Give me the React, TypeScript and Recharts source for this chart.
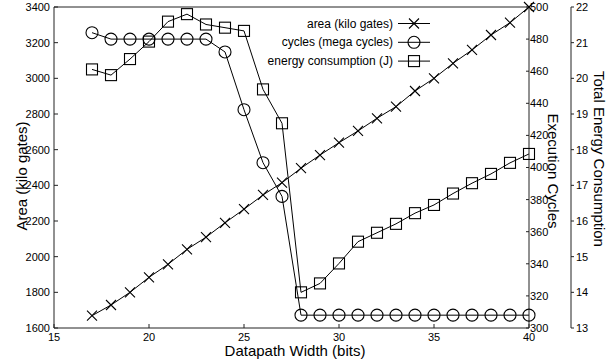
import {ComposedChart, Line, XAxis, YAxis, Legend} from 'recharts';

const FONT = '"Liberation Sans", Arial, Helvetica, sans-serif';

// datapath width (bits)
const widths = [
  17, 18, 19, 20, 21, 22, 23, 24, 25, 26, 27, 28, 29, 30, 31, 32, 33, 34, 35,
  36, 37, 38, 39, 40,
];
// area (kilo gates), left axis
const areaKiloGates = [
  1669, 1729, 1800, 1884, 1957, 2041, 2109, 2190, 2266, 2346, 2415, 2496, 2570,
  2639, 2705, 2776, 2841, 2929, 3000, 3084, 3159, 3243, 3312, 3400,
];
// cycles (mega cycles), first right axis
const megaCycles = [
  484, 480, 480, 480, 480, 480, 480, 472, 436, 403, 382, 308, 308, 308, 308,
  308, 308, 308, 308, 308, 308, 308, 308, 308,
];
// energy consumption (J), outer right axis
const energyJ = [
  20.25, 20.09, 20.54, 21.03, 21.59, 21.8, 21.51, 21.42, 21.33, 19.69, 18.74,
  14.0, 14.25, 14.81, 15.42, 15.67, 15.92, 16.22, 16.45, 16.77, 17.06, 17.32,
  17.63, 17.88,
];

const xTicks = [15, 20, 25, 30, 35, 40];
const areaTicks = [1600, 1800, 2000, 2200, 2400, 2600, 2800, 3000, 3200, 3400];
const cycleTicks = [300, 320, 340, 360, 380, 400, 420, 440, 460, 480, 500];
const energyTicks = [13, 14, 15, 16, 17, 18, 19, 20, 21, 22];

const data = widths.map((w, i) => ({
  w,
  area: areaKiloGates[i],
  cycles: megaCycles[i],
  energy: energyJ[i],
}));

const INK = '#000';
const AXIS = '#222';

const Cross = ({cx, cy}: {cx: number; cy: number}) => (
  <path
    d={`M${cx - 5},${cy - 5}L${cx + 5},${cy + 5}M${cx - 5},${cy + 5}L${cx + 5},${cy - 5}`}
    stroke={INK}
    strokeWidth={1.1}
    fill="none"
  />
);
const Ring = ({cx, cy}: {cx: number; cy: number}) => (
  <circle cx={cx} cy={cy} r={6} stroke={INK} strokeWidth={1.1} fill="none" />
);
const Box = ({cx, cy}: {cx: number; cy: number}) => (
  <rect
    x={cx - 5.5}
    y={cy - 5.5}
    width={11}
    height={11}
    stroke={INK}
    strokeWidth={1.1}
    fill="none"
  />
);

const markers: {[k: string]: any} = {area: Cross, cycles: Ring, energy: Box};

const LegendBox = ({payload}: any) => (
  <svg width={190} height={62} style={{display: 'block'}}>
    {(payload || []).map((p: any, i: number) => {
      const y = 11.5 + i * 18.8;
      const M = markers[p.dataKey as string];
      return (
        <g key={p.value}>
          <text
            x={143}
            y={y}
            textAnchor="end"
            dominantBaseline="central"
            fontSize={12}
            fontFamily={FONT}
            fill={INK}>
            {p.value}
          </text>
          <line x1={148} x2={180} y1={y} y2={y} stroke={INK} strokeWidth={1} />
          <M cx={164} cy={y} />
        </g>
      );
    })}
  </svg>
);

const tickStyle = {fontSize: 11, fill: INK, fontFamily: FONT};

const title = (text: string, x: number, y: number, angle: number) => () => (
  <text
    x={x}
    y={y}
    transform={`rotate(${angle} ${x} ${y})`}
    textAnchor="middle"
    fontSize={15}
    fontFamily={FONT}
    fill={INK}>
    {text}
  </text>
);

export default function App() {
  return (
    <div style={{position: 'absolute', left: 0, top: 0, fontFamily: FONT, background: '#fff'}}>
      <ComposedChart
        width={613}
        height={364}
        data={data}
        margin={{top: 6, right: 0, bottom: 0, left: 0}}>
        <XAxis
          xAxisId="bottom"
          dataKey="w"
          type="number"
          domain={[15, 40]}
          ticks={xTicks}
          height={36}
          stroke={AXIS}
          tickSize={-4}
          tickMargin={9}
          tick={tickStyle}
          label={{content: title('Datapath Width (bits)', 295, 356, 0)}}
        />
        <XAxis
          xAxisId="top"
          orientation="top"
          dataKey="w"
          type="number"
          domain={[15, 40]}
          ticks={xTicks}
          height={1}
          stroke={AXIS}
          tickSize={-4}
          tick={false}
        />
        <YAxis
          yAxisId="area"
          orientation="left"
          type="number"
          domain={[1600, 3400]}
          ticks={areaTicks}
          width={54}
          stroke={AXIS}
          tickSize={-4}
          tickMargin={8}
          tick={tickStyle}
          label={{content: title('Area (kilo gates)', 27, 176, -90)}}
        />
        <YAxis
          yAxisId="cycles"
          orientation="right"
          type="number"
          domain={[300, 500]}
          ticks={cycleTicks}
          width={42}
          stroke={AXIS}
          tickSize={-3}
          tickMargin={4}
          tick={tickStyle}
          label={{content: title('Execution Cycles', 548, 171, 90)}}
        />
        <YAxis
          yAxisId="energy"
          orientation="right"
          type="number"
          domain={[13, 22]}
          ticks={energyTicks}
          width={42}
          stroke={AXIS}
          tickSize={3}
          tickMargin={2}
          tick={tickStyle}
          label={{content: title('Total Energy Consumption', 594, 159, 90)}}
        />
        <Legend
          layout="vertical"
          align="center"
          verticalAlign="middle"
          content={LegendBox}
          wrapperStyle={{left: 250, top: 12, width: 190, height: 62}}
        />
        <Line
          xAxisId="bottom"
          yAxisId="area"
          dataKey="area"
          name="area (kilo gates)"
          stroke={INK}
          strokeWidth={1}
          isAnimationActive={false}
          dot={(p: any) => <Cross key={`a${p.index}`} cx={p.cx} cy={p.cy} />}
        />
        <Line
          xAxisId="bottom"
          yAxisId="cycles"
          dataKey="cycles"
          name="cycles (mega cycles)"
          stroke={INK}
          strokeWidth={1}
          isAnimationActive={false}
          dot={(p: any) => <Ring key={`c${p.index}`} cx={p.cx} cy={p.cy} />}
        />
        <Line
          xAxisId="bottom"
          yAxisId="energy"
          dataKey="energy"
          name="energy consumption (J)"
          stroke={INK}
          strokeWidth={1}
          isAnimationActive={false}
          dot={(p: any) => <Box key={`e${p.index}`} cx={p.cx} cy={p.cy} />}
        />
      </ComposedChart>
    </div>
  );
}
